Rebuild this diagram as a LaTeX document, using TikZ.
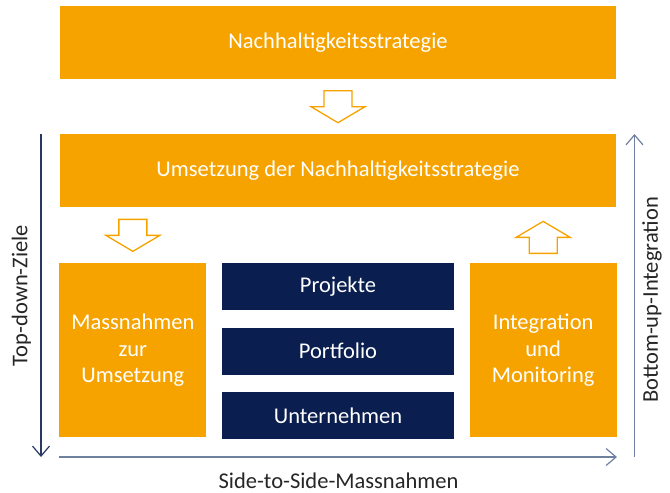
\documentclass[tikz,border=0pt]{standalone}
\usepackage{fontspec}
\setmainfont{Carlito}
\usepackage{xcolor}
\definecolor{StratOrange}{RGB}{246,163,0}
\definecolor{LevelNavy}{RGB}{10,30,80}
\definecolor{AxisNavy}{RGB}{40,55,100}
\definecolor{AxisGray}{RGB}{112,128,160}
\usetikzlibrary{positioning, arrows.meta, calc}

\begin{document}
\begin{tikzpicture}[
    x=1pt, y=-1pt,
    node distance=17pt and 15pt,
    every node/.style={font=\fontsize{22.5}{26.5}\selectfont},
    block/.style={rectangle, inner sep=0pt, align=center, text=white},
    wide/.style={block, fill=StratOrange, minimum width=556pt, minimum height=73pt},
    side/.style={block, fill=StratOrange, minimum width=147pt, minimum height=174pt},
    level/.style={block, fill=LevelNavy, minimum width=232.5pt, minimum height=47pt},
    hollow/.style={draw=StratOrange, fill=white, line width=1.3pt, line join=miter},
    axis/.style={-{Straight Barb[length=10pt, width=17pt]}, line width=1.2pt},
    axislabel/.style={text=black!85},
]
\useasboundingbox (0,0) rectangle (670,493);

% Strategy levels
\node[wide] (strat) at (338,42.5) {Nachhaltigkeitsstrategie};
\node[wide, below=55pt of strat] (umsetz) {Umsetzung der Nachhaltigkeitsstrategie};

% Middle column
\node[level, below=55.5pt of umsetz] (proj) {Projekte};
\node[level, below=of proj] (portf) {Portfolio};
\node[level, below=of portf] (untern) {Unternehmen};

% Side boxes
\node[side, left=15pt of proj.north west, anchor=north east] (mass) {Massnahmen\\zur\\Umsetzung};
\node[side, right=15pt of proj.north east, anchor=north west] (integ) {Integration\\und\\Monitoring};

% Hollow block arrows
\coordinate (gapA) at ($(strat.south)!0.5!(umsetz.north)$);
\coordinate (gapB) at ($(umsetz.south -| mass)!0.5!(mass.north)$);
\coordinate (gapC) at ($(umsetz.south -| integ)!0.5!(integ.north)$);
\foreach \g in {gapA, gapB} {
    \draw[hollow] (\g) ++(-14,-16) -- ++(28,0) -- ++(0,16) -- ++(13,0)
        -- ++(-27,16) -- ++(-27,-16) -- ++(13,0) -- cycle;
}
\draw[hollow] (gapC) ++(-14,18) -- ++(28,0) -- ++(0,-16) -- ++(13,0)
    -- ++(-27,-16) -- ++(-27,16) -- ++(13,0) -- cycle;

% Axes
\coordinate (tdtop) at (41,134);
\coordinate (tdend) at (41,457);
\coordinate (bubot) at (634.5,457);
\coordinate (butop) at (634.5,134);
\coordinate (ssleft) at (59,457);
\coordinate (ssright) at (617,457);
\draw[axis, AxisNavy] (tdtop) -- (tdend);
\draw[axis, AxisGray] (bubot) -- (butop);
\draw[axis, AxisGray] (ssleft) -- (ssright);

% Axis labels
\node[axislabel, rotate=90] (tdlabel) at (21.5,295.5) {Top-down-Ziele};
\node[axislabel, rotate=90] (bulabel) at (652,300) {Bottom-up-Integration};
\node[axislabel] (sslabel) at (338.5,481) {Side-to-Side-Massnahmen};

\end{tikzpicture}
\end{document}
